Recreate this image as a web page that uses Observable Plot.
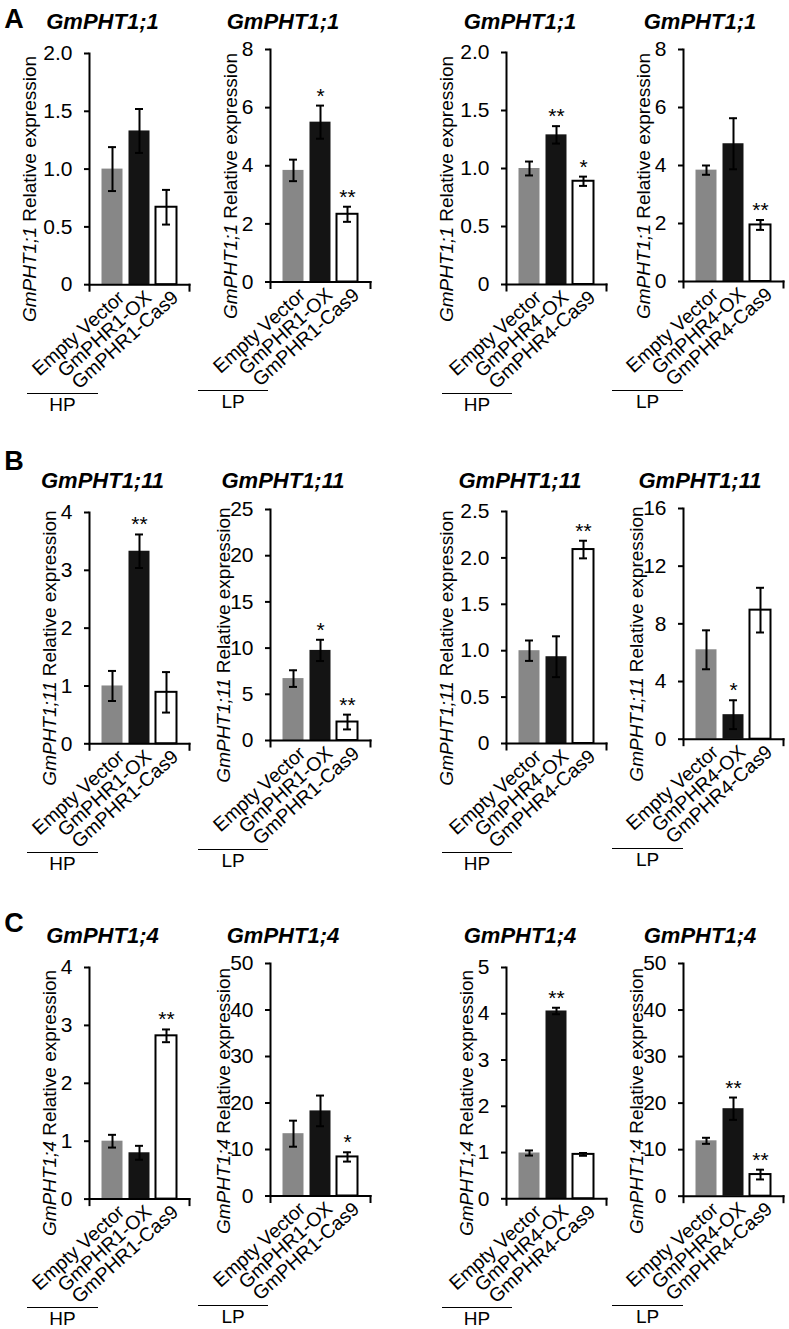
<!DOCTYPE html>
<html><head><meta charset="utf-8">
<script src="https://cdn.jsdelivr.net/npm/d3@7"></script>
<script src="https://cdn.jsdelivr.net/npm/@observablehq/plot@0.6"></script>
<style>
body{margin:0;background:#fff;}
#fig{position:relative;width:789px;height:1329px;overflow:hidden;font-family:"Liberation Sans",Arial,sans-serif;color:#000;background:#fff;}
#fig svg{position:absolute;}
.lab{position:absolute;white-space:nowrap;line-height:1;transform:translate(-50%,-50%);}
.title{font-weight:bold;font-style:italic;font-size:22px;}
.letter{font-weight:bold;font-size:27px;}
.ylab{font-size:19px;transform:translate(-50%,-50%) rotate(-90deg);}
.grp{font-size:19px;}
.gline{position:absolute;height:0;border-top:1.5px solid #000;}
</style></head><body><div id="fig"></div><script>
// ---- data ----
const groupsPHR1 = ["Empty Vector", "GmPHR1-OX", "GmPHR1-Cas9"];
const groupsPHR4 = ["Empty Vector", "GmPHR4-OX", "GmPHR4-Cas9"];
const genes = ["GmPHT1;1", "GmPHT1;11", "GmPHT1;4"];
const rowLetters = ["A", "B", "C"];
const conditions = ["HP", "LP", "HP", "LP"];

const meanA = [[1.00, 1.33, 0.67], [3.84, 5.50, 2.33], [1.00, 1.29, 0.89], [3.84, 4.75, 1.95]];
const errA  = [[0.19, 0.19, 0.15], [0.37, 0.57, 0.26], [0.06, 0.075, 0.04], [0.16, 0.88, 0.17]];
const starsA = [["", "", ""], ["", "*", "**"], ["", "**", "*"], ["", "", "**"]];

const meanB = [[1.00, 3.33, 0.89], [6.7, 9.75, 2.0], [1.00, 0.935, 2.09], [6.2, 1.7, 8.95]];
const errB  = [[0.26, 0.29, 0.35], [0.9, 1.15, 0.8], [0.11, 0.22, 0.095], [1.35, 1.0, 1.55]];
const starsB = [["", "**", ""], ["", "*", "**"], ["", "", "**"], ["", "*", ""]];

const meanC = [[1.00, 0.80, 2.82], [13.4, 18.3, 8.4], [0.99, 4.06, 0.96], [11.9, 18.8, 4.65]];
const errC  = [[0.11, 0.12, 0.11], [2.8, 3.3, 1.0], [0.055, 0.07, 0.03], [0.65, 2.4, 1.05]];
const starsC = [["", "", "**"], ["", "", "*"], ["", "**", ""], ["", "**", "**"]];

const yMaxA = [2, 8, 2, 8];
const yMaxB = [4, 25, 2.5, 16];
const yMaxC = [4, 50, 5, 50];
const ticksA = [[0, 0.5, 1, 1.5, 2], [0, 2, 4, 6, 8], [0, 0.5, 1, 1.5, 2], [0, 2, 4, 6, 8]];
const ticksB = [[0, 1, 2, 3, 4], [0, 5, 10, 15, 20, 25], [0, 0.5, 1, 1.5, 2, 2.5], [0, 4, 8, 12, 16]];
const ticksC = [[0, 1, 2, 3, 4], [0, 10, 20, 30, 40, 50], [0, 1, 2, 3, 4, 5], [0, 10, 20, 30, 40, 50]];
const decimalA = [true, false, true, false];
const decimalB = [false, false, true, false];
const decimalC = [false, false, false, false];

const barColors = ["#878787", "#141414", "#ffffff"];

// ---- layout ----
const colAxisX = [88.5, 270, 506, 683];
const rowTop  = [[52.5, 48.5, 51.7, 49], [511.7, 509, 510.7, 508.3], [966.7, 963, 967, 963]];
const rowZero = [[283.7, 281, 283.7, 281], [743, 740, 742.7, 739], [1198.3, 1195.5, 1198.3, 1195.7]];
const titleX = [102.5, 283, 520, 700];
const titleY = [22.3, 480.5, 935.5];
const letterPos = [[14, 18.5], [14, 461], [14, 923]];
const grpLine = [[27, 98], [198, 268], [442, 512], [612, 683]];

const rows = [
  {mean: meanA, err: errA, stars: starsA, ymax: yMaxA, ticks: ticksA, dec: decimalA},
  {mean: meanB, err: errB, stars: starsB, ymax: yMaxB, ticks: ticksB, dec: decimalB},
  {mean: meanC, err: errC, stars: starsC, ymax: yMaxC, ticks: ticksC, dec: decimalC}
];

const fig = document.getElementById("fig");
const ML = 60, MR = 12, MT = 14, MB = 110, AXW = 100;

function addLabel(html, cls, x, y) {
  const d = document.createElement("div");
  d.className = "lab " + cls;
  d.innerHTML = html;
  d.style.left = x + "px";
  d.style.top = y + "px";
  fig.appendChild(d);
}

rows.forEach((R, r) => {
  for (let c = 0; c < 4; c++) {
    const cats = c < 2 ? groupsPHR1 : groupsPHR4;
    const data = cats.map((g, i) => ({g, m: R.mean[c][i], e: R.err[c][i], s: R.stars[c][i], fill: barColors[i]}));
    const top = rowTop[r][c], zero = rowZero[r][c];
    const ph = zero - top;
    const W = ML + AXW + MR, H = MT + ph + MB;
    const fmt = R.dec[c] ? (d => d === 0 ? "0" : d.toFixed(1)) : (d => String(d));
    const chart = Plot.plot({
      width: W, height: H,
      marginLeft: ML, marginRight: MR, marginTop: MT, marginBottom: MB,
      style: {background: "transparent", overflow: "visible", maxWidth: "none", fontFamily: "'Liberation Sans', Arial, sans-serif", fontSize: "19px", color: "#000"},
      x: {domain: cats, paddingInner: 0.2, paddingOuter: 0.42, axis: null},
      y: {domain: [0, R.ymax[c]], axis: null},
      marks: [
        Plot.barY(data, {x: "g", y: "m", fill: "fill", stroke: d => d.fill === "#ffffff" ? "#000" : "none", strokeWidth: 2, insetLeft: 0.5, insetRight: 0.5}),
        Plot.ruleX(data, {x: "g", y1: d => d.m - d.e, y2: d => d.m + d.e, stroke: "#000", strokeWidth: 2}),
        Plot.tickY(data, {x: "g", y: d => d.m + d.e, stroke: "#000", strokeWidth: 2, insetLeft: 7, insetRight: 7}),
        Plot.tickY(data, {x: "g", y: d => d.m - d.e, stroke: "#000", strokeWidth: 2, insetLeft: 7, insetRight: 7}),
        Plot.text(data.filter(d => d.s), {x: "g", y: d => d.m + d.e, text: "s", dy: -3, lineAnchor: "bottom", fontSize: 21, fill: "#000"}),
        Plot.frame({anchor: "left", insetBottom: -6, stroke: "#000", strokeWidth: 2}),
        Plot.frame({anchor: "bottom", stroke: "#000", strokeWidth: 2}),
        Plot.frame({anchor: "right", insetTop: ph, insetBottom: -6, stroke: "#000", strokeWidth: 2}),
        Plot.axisY({ticks: R.ticks[c], tickFormat: fmt, tickSize: 5, tickPadding: 12, strokeWidth: 2, fontSize: 21, label: null}),
        Plot.axisX({tickSize: 0, tickPadding: 8, tickRotate: -42, fontSize: 19.5, dx: 9, dy: 2, label: null})
      ]
    });
    chart.style.left = (colAxisX[c] - ML) + "px";
    chart.style.top = (top - MT) + "px";
    fig.appendChild(chart);

    // title
    addLabel(genes[r], "title", titleX[c], titleY[r]);
    // y label
    const maxLen = d3.max(R.ticks[c], t => fmt(t).length);
    const off = maxLen >= 3 ? 60 : maxLen === 2 ? 47 : 40;
    addLabel("<i>" + genes[r] + "</i> Relative expression", "ylab", colAxisX[c] - off, zero - 95);
    // condition group line + label
    const ln = document.createElement("div");
    ln.className = "gline";
    ln.style.left = grpLine[c][0] + "px";
    ln.style.width = (grpLine[c][1] - grpLine[c][0]) + "px";
    ln.style.top = (zero + 109) + "px";
    fig.appendChild(ln);
    addLabel(conditions[c], "grp", (grpLine[c][0] + grpLine[c][1]) / 2, zero + 120);
  }
  addLabel(rowLetters[r], "letter", letterPos[r][0], letterPos[r][1]);
});
</script></body></html>
